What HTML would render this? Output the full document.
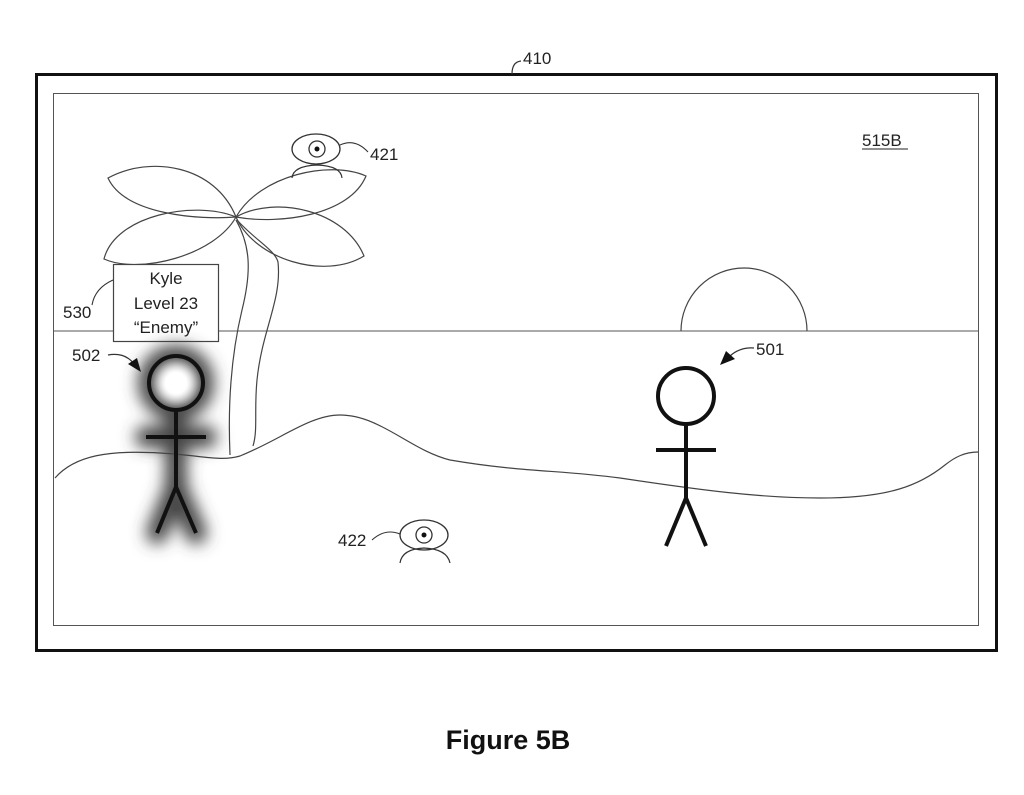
<!DOCTYPE html>
<html><head><meta charset="utf-8"><style>
html,body{margin:0;padding:0;background:#fff;}
svg{display:block}
text{font-family:"Liberation Sans",Arial,sans-serif;fill:#222}
</style></head><body>
<svg width="1024" height="795" viewBox="0 0 1024 795" xmlns="http://www.w3.org/2000/svg">
<defs>
<filter id="glow" x="-50%" y="-50%" width="200%" height="200%"><feGaussianBlur stdDeviation="8"/></filter>
<radialGradient id="hg"><stop offset="0.4" stop-color="#fff"/><stop offset="1" stop-color="#fff" stop-opacity="0"/></radialGradient>
</defs>
<rect x="0" y="0" width="1024" height="795" fill="#fff"/>
<rect x="36.5" y="74.5" width="960" height="576" fill="none" stroke="#111" stroke-width="3"/>
<rect x="53.5" y="93.5" width="925" height="532" fill="none" stroke="#555" stroke-width="1"/>
<path d="M512 74 Q512 62 521 61" fill="none" stroke="#333" stroke-width="1.2"/>
<text x="523" y="64" font-size="17">410</text>
<text x="862" y="146" font-size="17">515B</text>
<line x1="862" y1="149" x2="908" y2="149" stroke="#222" stroke-width="1"/>
<line x1="54" y1="331" x2="978" y2="331" stroke="#555" stroke-width="1"/>
<path d="M681 331 A63 63 0 0 1 807 331" fill="none" stroke="#444" stroke-width="1.2"/>
<path d="M55 478 C75 455 110 450 160 453 C200 455 220 462 240 456 C280 440 310 415 340 415 C380 415 410 450 450 460 C520 472 560 470 620 478 C700 490 760 498 820 498 C890 498 920 485 945 465 C955 457 965 452 978 452" fill="none" stroke="#444" stroke-width="1.2"/>
<path d="M236 220 C250 245 252 270 242 310 C230 360 228 410 230 455" fill="none" stroke="#444" stroke-width="1.2"/>
<path d="M237 220 C255 240 275 250 278 262 C282 300 262 330 257 380 C254 410 258 430 253 446" fill="none" stroke="#444" stroke-width="1.2"/>
<g fill="none" stroke="#444" stroke-width="1.2">
<path d="M108 178 C150 155 215 165 236 217 C200 220 125 215 108 178 Z"/>
<path d="M236 217 C260 175 330 160 366 176 C350 215 280 225 236 217 Z"/>
<path d="M104 259 C115 215 195 200 236 217 C215 255 140 275 104 259 Z"/>
<path d="M236 217 C275 195 345 210 364 256 C325 280 255 260 236 217 Z"/>
</g>
<ellipse cx="316" cy="149" rx="24" ry="15" fill="#fff" stroke="#333" stroke-width="1.3"/>
<circle cx="317" cy="149" r="8" fill="none" stroke="#333" stroke-width="1.3"/>
<circle cx="317" cy="149" r="2.5" fill="#111"/>
<path d="M292 178 Q293 166 317 165 Q341 166 342 178" fill="none" stroke="#333" stroke-width="1.2"/>
<path d="M340 145 Q355 138 368 152" fill="none" stroke="#333" stroke-width="1.1"/>
<text x="370" y="160" font-size="17">421</text>
<ellipse cx="424" cy="535" rx="24" ry="15" fill="#fff" stroke="#333" stroke-width="1.3"/>
<circle cx="424" cy="535" r="8" fill="none" stroke="#333" stroke-width="1.3"/>
<circle cx="424" cy="535" r="2.5" fill="#111"/>
<path d="M400 563 Q402 549 424 548 Q447 549 450 563" fill="none" stroke="#333" stroke-width="1.2"/>
<path d="M372 540 Q385 528 400 534" fill="none" stroke="#333" stroke-width="1.1"/>
<text x="338" y="546" font-size="17">422</text>
<rect x="113.5" y="264.5" width="105" height="77" fill="#fff" stroke="#444" stroke-width="1.2"/>
<text x="166" y="284" font-size="17" text-anchor="middle">Kyle</text>
<text x="166" y="309" font-size="17" text-anchor="middle">Level 23</text>
<text x="166" y="333" font-size="17" text-anchor="middle">“Enemy”</text>
<path d="M113 280 Q95 288 92 305" fill="none" stroke="#333" stroke-width="1.1"/>
<text x="63" y="318" font-size="17">530</text>
<g filter="url(#glow)" stroke="#444" stroke-width="22" fill="none" stroke-linecap="round">
<circle cx="176" cy="383" r="27"/>
<line x1="176" y1="410" x2="176" y2="487"/>
<line x1="146" y1="437" x2="206" y2="437"/>
<line x1="176" y1="487" x2="157" y2="533"/>
<line x1="176" y1="487" x2="196" y2="533"/>
</g>
<circle cx="176" cy="383" r="26" fill="url(#hg)"/>
<g stroke="#111" stroke-width="4" fill="none">
<circle cx="176" cy="383" r="27"/>
<line x1="176" y1="410" x2="176" y2="487"/>
<line x1="146" y1="437" x2="206" y2="437"/>
<line x1="176" y1="487" x2="157" y2="533"/>
<line x1="176" y1="487" x2="196" y2="533"/>
</g>
<text x="72" y="361" font-size="17">502</text>
<path d="M108 355 Q125 352 134 364" fill="none" stroke="#333" stroke-width="1.2"/>
<polygon points="141,372 128,364 137,358" fill="#111"/>
<g stroke="#111" stroke-width="4" fill="none">
<circle cx="686" cy="396" r="28"/>
<line x1="686" y1="424" x2="686" y2="498"/>
<line x1="656" y1="450" x2="716" y2="450"/>
<line x1="686" y1="498" x2="666" y2="546"/>
<line x1="686" y1="498" x2="706" y2="546"/>
</g>
<text x="756" y="355" font-size="17">501</text>
<path d="M754 348 Q740 347 730 356" fill="none" stroke="#333" stroke-width="1.2"/>
<polygon points="720,365 726,351 735,359" fill="#111"/>
<text x="508" y="749" font-size="27" font-weight="bold" text-anchor="middle" style="fill:#111">Figure 5B</text>
</svg>
</body></html>
